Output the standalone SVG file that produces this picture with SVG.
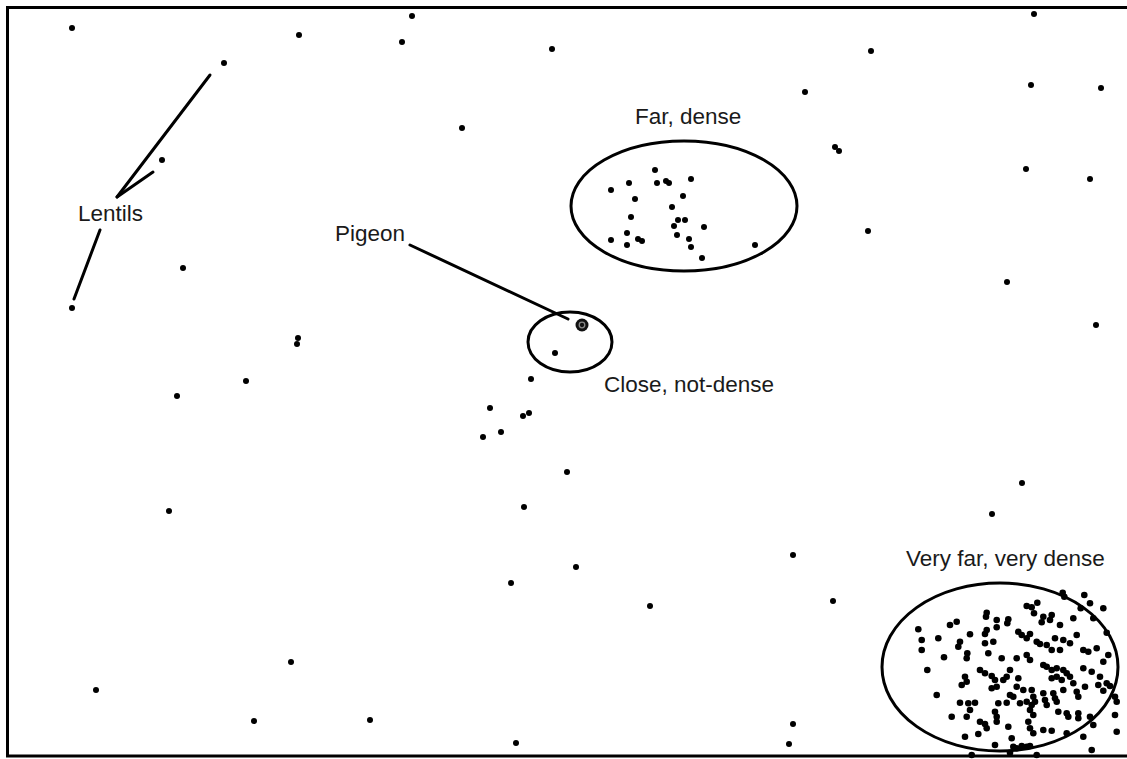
<svg xmlns="http://www.w3.org/2000/svg" width="1127" height="759" viewBox="0 0 1127 759">
<style>
.lbl{font-family:"Liberation Sans",Arial,sans-serif;font-size:22.5px;fill:#1a1a1a}
.ring{fill:none;stroke:#000;stroke-width:3}
.ln{fill:none;stroke:#000;stroke-width:3;stroke-linecap:round}
.d circle{fill:#000;r:3px}
.dd circle{fill:#000;r:3.3px}
</style>
<rect width="1127" height="759" fill="#fff"/>
<g id="frame"><polyline points="1127,7.5 7.5,7.5 7.5,756 1127,756" fill="none" stroke="#000" stroke-width="3"/></g>
<g id="connectors">
<line class="ln" x1="210" y1="75" x2="117" y2="197"/>
<line class="ln" x1="153" y1="172" x2="117" y2="197"/>
<line class="ln" x1="100" y1="230" x2="74" y2="299"/>
<line class="ln" x1="410" y1="245" x2="568" y2="319"/>
</g>
<g id="lentils-label"><text class="lbl" x="78" y="221">Lentils</text></g>
<g id="pigeon-label"><text class="lbl" x="335" y="241">Pigeon</text></g>
<g id="pigeon"><circle cx="582" cy="325" r="6.5" fill="#111"/><circle cx="582" cy="325" r="2.8" fill="none" stroke="#888" stroke-width="1.3"/></g>
<g id="close-not-dense"><ellipse class="ring" cx="570" cy="342" rx="42" ry="30"/><g class="d"><circle cx="555" cy="353" r="3"/></g><text class="lbl" x="604" y="392">Close, not-dense</text></g>
<g id="far-dense"><ellipse class="ring" cx="684" cy="206" rx="113" ry="65"/>
<g class="d">
<circle cx="655" cy="170" r="3"/><circle cx="629" cy="183" r="3"/><circle cx="657" cy="183" r="3"/><circle cx="666" cy="181" r="3"/><circle cx="669" cy="183" r="3"/><circle cx="691" cy="179" r="3"/><circle cx="611" cy="190" r="3"/><circle cx="635" cy="199" r="3"/><circle cx="683" cy="196" r="3"/><circle cx="672" cy="207" r="3"/><circle cx="631" cy="217" r="3"/><circle cx="678" cy="220" r="3"/><circle cx="685" cy="220" r="3"/><circle cx="674" cy="226" r="3"/><circle cx="704" cy="227" r="3"/><circle cx="627" cy="233" r="3"/><circle cx="677" cy="235" r="3"/><circle cx="638" cy="239" r="3"/><circle cx="642" cy="241" r="3"/><circle cx="611" cy="240" r="3"/><circle cx="689" cy="239" r="3"/><circle cx="627" cy="245" r="3"/><circle cx="691" cy="247" r="3"/><circle cx="702" cy="258" r="3"/><circle cx="755" cy="245" r="3"/>
</g>
<text class="lbl" x="635" y="124">Far, dense</text></g>
<g id="very-far-very-dense"><ellipse class="ring" cx="1000" cy="667" rx="118" ry="84"/>
<g class="dd">
<circle cx="1062.7" cy="592.7" r="3.3"/><circle cx="1084.3" cy="595" r="3.3"/><circle cx="1064.3" cy="596.7" r="3.3"/><circle cx="1090" cy="603.3" r="3.3"/><circle cx="1080.7" cy="608.3" r="3.3"/><circle cx="1103.3" cy="608.3" r="3.3"/><circle cx="1026.7" cy="606" r="3.3"/><circle cx="1037.3" cy="602.7" r="3.3"/><circle cx="1031.7" cy="607.3" r="3.3"/><circle cx="1034" cy="613.3" r="3.3"/><circle cx="986.7" cy="612.7" r="3.3"/><circle cx="986" cy="616.7" r="3.3"/><circle cx="996.7" cy="620" r="3.3"/><circle cx="1008.3" cy="619.3" r="3.3"/><circle cx="1007.3" cy="623.3" r="3.3"/><circle cx="1043.3" cy="616.7" r="3.3"/><circle cx="1051.7" cy="615" r="3.3"/><circle cx="1050" cy="620" r="3.3"/><circle cx="1041.7" cy="622.3" r="3.3"/><circle cx="1060" cy="625" r="3.3"/><circle cx="1073.3" cy="618.3" r="3.3"/><circle cx="1093.3" cy="618.3" r="3.3"/><circle cx="956.7" cy="621.7" r="3.3"/><circle cx="950" cy="625" r="3.3"/><circle cx="918.3" cy="629.3" r="3.3"/><circle cx="921.7" cy="640" r="3.3"/><circle cx="921.7" cy="650" r="3.3"/><circle cx="938.3" cy="638.3" r="3.3"/><circle cx="944" cy="657.3" r="3.3"/><circle cx="927.3" cy="670" r="3.3"/><circle cx="936.7" cy="695" r="3.3"/><circle cx="1106.7" cy="632.7" r="3.3"/><circle cx="1076.7" cy="635" r="3.3"/><circle cx="986.7" cy="630" r="3.3"/><circle cx="985" cy="634" r="3.3"/><circle cx="996.7" cy="627.3" r="3.3"/><circle cx="970" cy="634.3" r="3.3"/><circle cx="960" cy="641.7" r="3.3"/><circle cx="958.3" cy="646.7" r="3.3"/><circle cx="967.3" cy="653.3" r="3.3"/><circle cx="966.7" cy="658.3" r="3.3"/><circle cx="985" cy="643.3" r="3.3"/><circle cx="993.3" cy="641.7" r="3.3"/><circle cx="988.3" cy="653.3" r="3.3"/><circle cx="1001.7" cy="658.3" r="3.3"/><circle cx="1016.7" cy="658.3" r="3.3"/><circle cx="1026.7" cy="655" r="3.3"/><circle cx="1030" cy="660" r="3.3"/><circle cx="1018.3" cy="631.7" r="3.3"/><circle cx="1021.7" cy="635" r="3.3"/><circle cx="1026.7" cy="638.3" r="3.3"/><circle cx="1030" cy="634" r="3.3"/><circle cx="1036.7" cy="641.7" r="3.3"/><circle cx="1040" cy="644" r="3.3"/><circle cx="1046.7" cy="645" r="3.3"/><circle cx="1051.7" cy="650" r="3.3"/><circle cx="1060" cy="650" r="3.3"/><circle cx="1055" cy="638.3" r="3.3"/><circle cx="1063.3" cy="640" r="3.3"/><circle cx="1070" cy="643.3" r="3.3"/><circle cx="1083.3" cy="650" r="3.3"/><circle cx="1088.3" cy="651.7" r="3.3"/><circle cx="1096.7" cy="648.3" r="3.3"/><circle cx="1108.3" cy="655" r="3.3"/><circle cx="1103.3" cy="661.7" r="3.3"/><circle cx="1043.3" cy="665" r="3.3"/><circle cx="1046.7" cy="666.7" r="3.3"/><circle cx="1051.7" cy="670" r="3.3"/><circle cx="1056.7" cy="668.3" r="3.3"/><circle cx="1063.3" cy="670" r="3.3"/><circle cx="1066.7" cy="673.3" r="3.3"/><circle cx="1056.7" cy="676.7" r="3.3"/><circle cx="1051.7" cy="678.3" r="3.3"/><circle cx="1061.7" cy="680" r="3.3"/><circle cx="1070" cy="676.7" r="3.3"/><circle cx="1073.3" cy="683.3" r="3.3"/><circle cx="1083.3" cy="668.3" r="3.3"/><circle cx="1091.7" cy="671.7" r="3.3"/><circle cx="1100" cy="676.7" r="3.3"/><circle cx="1098.3" cy="685" r="3.3"/><circle cx="1106.7" cy="683.3" r="3.3"/><circle cx="1110" cy="686" r="3.3"/><circle cx="1103.3" cy="690.7" r="3.3"/><circle cx="1115" cy="696.7" r="3.3"/><circle cx="1116.7" cy="701.7" r="3.3"/><circle cx="980" cy="670" r="3.3"/><circle cx="985" cy="673.3" r="3.3"/><circle cx="991.7" cy="676" r="3.3"/><circle cx="995" cy="680" r="3.3"/><circle cx="991.7" cy="688.3" r="3.3"/><circle cx="996.7" cy="686.7" r="3.3"/><circle cx="1003.3" cy="680" r="3.3"/><circle cx="1006.7" cy="676.7" r="3.3"/><circle cx="1010" cy="670" r="3.3"/><circle cx="1018.3" cy="678.3" r="3.3"/><circle cx="1016.7" cy="686.7" r="3.3"/><circle cx="1023.3" cy="690" r="3.3"/><circle cx="1013.3" cy="696.7" r="3.3"/><circle cx="1010" cy="695" r="3.3"/><circle cx="1031.7" cy="690" r="3.3"/><circle cx="1033.3" cy="696.7" r="3.3"/><circle cx="1035" cy="701.7" r="3.3"/><circle cx="1031.7" cy="705" r="3.3"/><circle cx="1043.3" cy="693.3" r="3.3"/><circle cx="1045" cy="700" r="3.3"/><circle cx="1046.7" cy="705" r="3.3"/><circle cx="1053.3" cy="693.3" r="3.3"/><circle cx="1055" cy="698.3" r="3.3"/><circle cx="1056.7" cy="701.7" r="3.3"/><circle cx="1063.3" cy="690" r="3.3"/><circle cx="1076.7" cy="691.7" r="3.3"/><circle cx="1078.3" cy="696.7" r="3.3"/><circle cx="1085" cy="686.7" r="3.3"/><circle cx="965" cy="676.7" r="3.3"/><circle cx="966.7" cy="681.7" r="3.3"/><circle cx="961.7" cy="685" r="3.3"/><circle cx="960" cy="702.7" r="3.3"/><circle cx="968.3" cy="703.3" r="3.3"/><circle cx="975" cy="702.7" r="3.3"/><circle cx="970" cy="710" r="3.3"/><circle cx="951.7" cy="716.7" r="3.3"/><circle cx="966.7" cy="716.7" r="3.3"/><circle cx="998.3" cy="703.3" r="3.3"/><circle cx="995" cy="711.7" r="3.3"/><circle cx="996.7" cy="716.7" r="3.3"/><circle cx="996.7" cy="721.7" r="3.3"/><circle cx="980" cy="721.7" r="3.3"/><circle cx="985" cy="724" r="3.3"/><circle cx="986.7" cy="728.3" r="3.3"/><circle cx="1006.7" cy="702.7" r="3.3"/><circle cx="1020" cy="703.3" r="3.3"/><circle cx="1026.7" cy="701.7" r="3.3"/><circle cx="1030" cy="710" r="3.3"/><circle cx="1033.3" cy="715" r="3.3"/><circle cx="1028.3" cy="721.7" r="3.3"/><circle cx="1030" cy="728.3" r="3.3"/><circle cx="1033.3" cy="733.3" r="3.3"/><circle cx="1043.3" cy="730" r="3.3"/><circle cx="1051.7" cy="730.7" r="3.3"/><circle cx="1058.3" cy="711.7" r="3.3"/><circle cx="1066.7" cy="713.3" r="3.3"/><circle cx="1068.3" cy="716.7" r="3.3"/><circle cx="1078.3" cy="713.3" r="3.3"/><circle cx="1078.3" cy="718.3" r="3.3"/><circle cx="1090" cy="716.7" r="3.3"/><circle cx="1093.3" cy="725" r="3.3"/><circle cx="1066.7" cy="733.3" r="3.3"/><circle cx="1083.3" cy="736.7" r="3.3"/><circle cx="1115" cy="715" r="3.3"/><circle cx="1116.7" cy="731.7" r="3.3"/><circle cx="1091.7" cy="750" r="3.3"/><circle cx="965" cy="736.7" r="3.3"/><circle cx="978.3" cy="734" r="3.3"/><circle cx="995" cy="745" r="3.3"/><circle cx="1011.7" cy="738.3" r="3.3"/><circle cx="1013.3" cy="746.7" r="3.3"/><circle cx="1016.7" cy="748.3" r="3.3"/><circle cx="1021.7" cy="746" r="3.3"/><circle cx="1026.7" cy="746.7" r="3.3"/><circle cx="1030" cy="746" r="3.3"/><circle cx="971.7" cy="755" r="3.3"/><circle cx="1010" cy="752.7" r="3.3"/><circle cx="1036.7" cy="755" r="3.3"/><circle cx="1008.3" cy="726.7" r="3.3"/>
</g>
<text class="lbl" x="906" y="566">Very far, very dense</text></g>
<g id="scattered" class="d">
<circle cx="72" cy="28" r="3"/><circle cx="299" cy="35" r="3"/><circle cx="412" cy="16" r="3"/><circle cx="402" cy="42" r="3"/><circle cx="224" cy="63" r="3"/><circle cx="552" cy="49" r="3"/><circle cx="162" cy="160" r="3"/><circle cx="183" cy="268" r="3"/><circle cx="72" cy="308" r="3"/><circle cx="298" cy="338" r="3"/><circle cx="297" cy="344" r="3"/><circle cx="246" cy="381" r="3"/><circle cx="177" cy="396" r="3"/><circle cx="462" cy="128" r="3"/><circle cx="169" cy="511" r="3"/><circle cx="96" cy="690" r="3"/><circle cx="254" cy="721" r="3"/><circle cx="370" cy="720" r="3"/><circle cx="516" cy="743" r="3"/><circle cx="291" cy="662" r="3"/>
<circle cx="531" cy="379" r="3"/><circle cx="490" cy="408" r="3"/><circle cx="523" cy="416" r="3"/><circle cx="529" cy="413" r="3"/><circle cx="501" cy="432" r="3"/><circle cx="483" cy="437" r="3"/><circle cx="567" cy="472" r="3"/><circle cx="524" cy="507" r="3"/><circle cx="576" cy="567" r="3"/><circle cx="511" cy="583" r="3"/><circle cx="650" cy="606" r="3"/>
<circle cx="1034" cy="14" r="3"/><circle cx="871" cy="51" r="3"/><circle cx="805" cy="92" r="3"/><circle cx="1031" cy="85" r="3"/><circle cx="1101" cy="88" r="3"/><circle cx="835" cy="147" r="3"/><circle cx="839" cy="151" r="3"/><circle cx="1026" cy="169" r="3"/><circle cx="1090" cy="179" r="3"/><circle cx="868" cy="231" r="3"/><circle cx="1007" cy="282" r="3"/><circle cx="1096" cy="325" r="3"/><circle cx="1022" cy="483" r="3"/><circle cx="992" cy="514" r="3"/><circle cx="793" cy="555" r="3"/><circle cx="833" cy="601" r="3"/><circle cx="793" cy="724" r="3"/><circle cx="789" cy="744" r="3"/>
</g>
</svg>
